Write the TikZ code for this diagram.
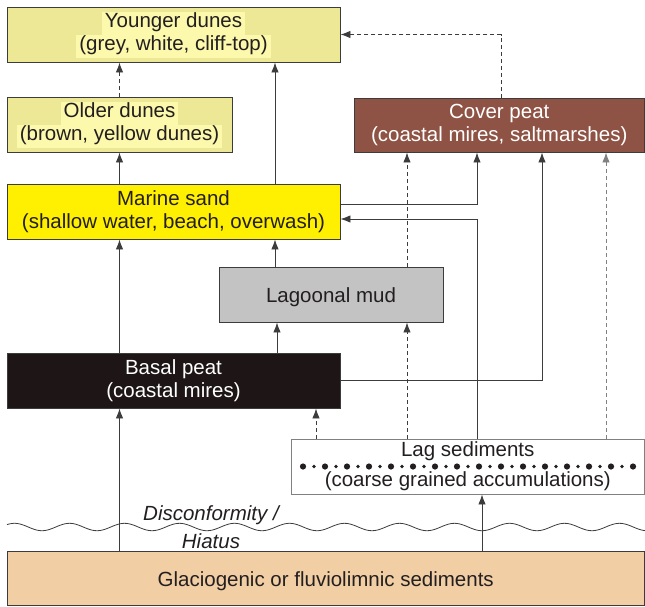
\documentclass[tikz,border=0pt]{standalone}
\usepackage{fontspec}
\setmainfont{Liberation Sans}
\usetikzlibrary{arrows.meta}
\definecolor{dunefill}{RGB}{236,232,150}
\definecolor{dunehl}{RGB}{252,248,172}
\definecolor{sandfill}{RGB}{255,239,0}
\definecolor{peatbrown}{RGB}{142,83,68}
\definecolor{peatblack}{RGB}{30,22,22}
\definecolor{mudgrey}{RGB}{195,195,195}
\definecolor{glaciofill}{RGB}{242,206,164}
\definecolor{linegrey}{RGB}{60,60,60}
\definecolor{textdark}{RGB}{35,31,32}
\newcommand{\hlbox}[1]{{\setlength{\fboxsep}{0pt}\colorbox{dunehl}{\hspace{3pt}\strut#1\hspace{3pt}}}}
\begin{document}
\begin{tikzpicture}[x=1pt,y=-1pt,
  every node/.style={font=\fontsize{20.5}{23}\selectfont, text=textdark},
  layer/.style={draw=linegrey, line width=0.9pt, rectangle, inner sep=0pt, minimum height=55pt, align=center},
  link/.style={draw=linegrey, line width=0.9pt, -{Latex[length=10pt,width=7.5pt]}},
  dashlink/.style={link, dash pattern=on 4pt off 3pt}]
\useasboundingbox (0,0) rectangle (645,606);
\node[layer, fill=dunefill, minimum width=333pt] (young) at (173.5,34.5) {\hlbox{Younger dunes}\\\hlbox{(grey, white, cliff-top)}};
\node[layer, fill=dunefill, minimum width=225pt] (older) at (119.5,124.5) {\hlbox{Older dunes}\\\hlbox{(brown, yellow dunes)}};
\node[layer, fill=peatbrown, minimum width=290.5pt, minimum height=54pt, text=white] (cover) at (499.25,125) {Cover peat\\(coastal mires, saltmarshes)};
\node[layer, fill=sandfill, minimum width=333pt] (marine) at (173.5,211.5) {Marine sand\\(shallow water, beach, overwash)};
\node[layer, fill=mudgrey, minimum width=224pt, text height=15pt, text depth=0pt] (lagoon) at (331,294.5) {Lagoonal mud};
\node[layer, fill=peatblack, minimum width=333pt, text=white] (basal) at (173.5,380.5) {Basal peat\\(coastal mires)};
\node[layer, draw=gray, fill=white, minimum width=353.5pt] (lag) at (467.75,466.5) {Lag sediments\\[7pt](coarse grained accumulations)};
\node[layer, fill=glaciofill, minimum width=637.5pt, minimum height=54.5pt, text height=17pt, text depth=0pt] (glacio) at (325.75,578.25) {Glaciogenic or fluviolimnic sediments};
\foreach \i in {0,...,15} \fill[textdark] (303+22*\i,466.5) circle (3.1pt);
\foreach \i in {0,...,14} \fill[textdark] (314+22*\i,466.5) circle (1.8pt);
\draw[linegrey, line width=0.8pt] plot[domain=7:645, samples=300, smooth] (\x,{527+3.7*cos((\x-42)*6.5455)});
\node[font=\fontsize{20.5}{28}\selectfont\itshape, align=center] (gap) at (211,527) {Disconformity /\\Hiatus};
\coordinate (sandcol) at (275,0);
\coordinate (mudup) at (277,0);
\coordinate (lowcol) at (316,0);
\coordinate (mudcol) at (407,0);
\coordinate (lagcol) at (477,0);
\coordinate (glaciocol) at (482,0);
\coordinate (basalcol) at (542,0);
\coordinate (farcol) at (606,0);
\draw[dashlink] (older.north) -- (older.north |- young.south);
\draw[link] (sandcol |- marine.north) -- (sandcol |- young.south);
\draw[link] (older.south |- marine.north) -- (older.south);
\draw[dashlink] ([xshift=2pt]cover.north) |- (young.east);
\draw[link] ([yshift=7.5pt]marine.east) -| (lagcol |- cover.south);
\draw[link] (lagcol |- lag.north) |- ([yshift=-7.5pt]marine.east);
\draw[link] (basal.east) -| (basalcol |- cover.south);
\draw[dashlink] (mudcol |- lag.north) -- (mudcol |- lagoon.south);
\draw[dashlink] (mudcol |- lagoon.north) -- (mudcol |- cover.south);
\draw[dashlink, draw=gray] (farcol |- lag.north) -- (farcol |- cover.south);
\draw[dashlink] (lowcol |- lag.north) -- (lowcol |- basal.south);
\draw[link] (sandcol |- lagoon.north) -- (sandcol |- marine.south);
\draw[link] (mudup |- basal.north) -- (mudup |- lagoon.south);
\draw[link] (older.south |- basal.north) -- (older.south |- marine.south);
\draw[link] (older.south |- glacio.north) -- (older.south |- basal.south);
\draw[link] (glaciocol |- glacio.north) -- (glaciocol |- lag.south);
\end{tikzpicture}
\end{document}
